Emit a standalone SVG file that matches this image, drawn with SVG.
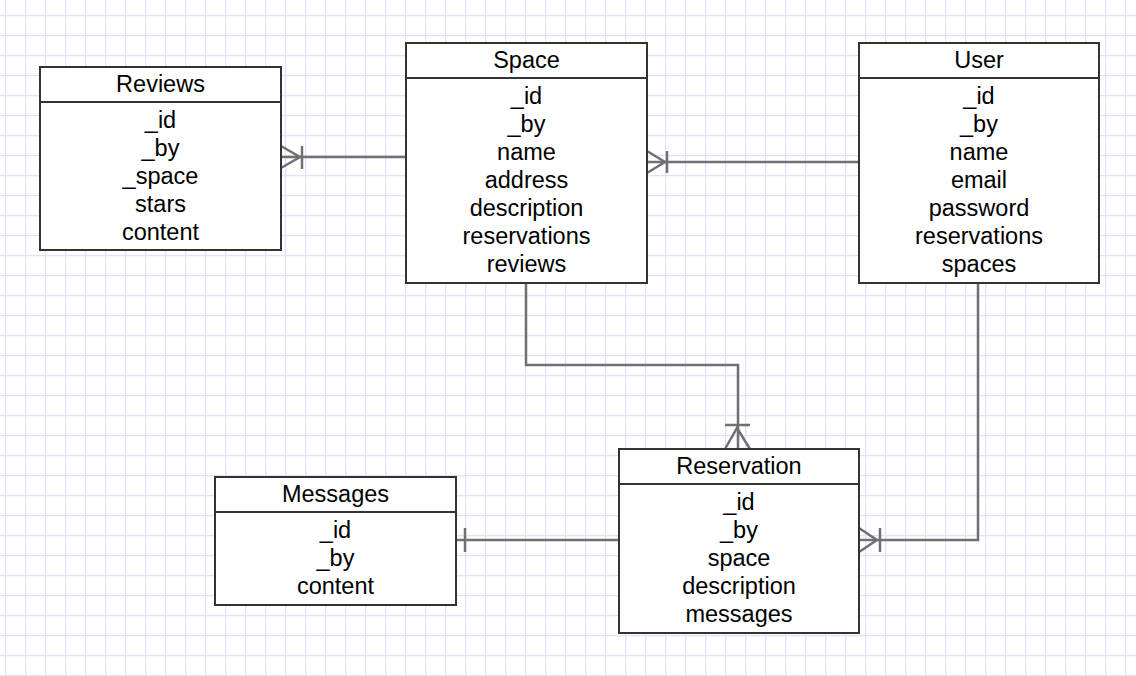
<svg xmlns="http://www.w3.org/2000/svg" width="1136" height="676" viewBox="0 0 1136 676">
<defs>
<pattern id="grid" x="5" y="15" width="20" height="20" patternUnits="userSpaceOnUse">
<path d="M0 0.5H20M0.5 0V20" fill="none" stroke="#e2e0ff" stroke-width="1.5"/>
</pattern>
</defs>
<style>
.box{fill:#fff;stroke:#333;stroke-width:2}
.hl{stroke:#333;stroke-width:2}
text{font-family:"Liberation Sans",Arial,sans-serif;font-size:23.5px;fill:#000;text-anchor:middle}
.c{fill:none;stroke:#707070;stroke-width:2.5}
</style>
<rect width="1136" height="676" fill="#fff"/>
<rect width="1136" height="676" fill="url(#grid)"/>

<g id="connectors">
<path class="c" d="M281 157H406"/>
<path class="c" d="M281 146L300 157L281 168M302 146V169"/>
<path class="c" d="M647 162H859"/>
<path class="c" d="M647 151L665 162L647 173M667 151V173"/>
<path class="c" d="M526 283V365H738V449"/>
<path class="c" d="M725 449L737 428L750 449M725 425H750"/>
<path class="c" d="M456 540H619"/>
<path class="c" d="M465 528V552"/>
<path class="c" d="M978 283V540H859"/>
<path class="c" d="M859 528L877 540L859 552M880 528V552"/>
</g>

<g id="reviews">
<rect class="box" x="40" y="67" width="241" height="183"/>
<line class="hl" x1="40" y1="102" x2="281" y2="102"/>
<text x="160.5" y="92">Reviews</text>
<text x="160.5" y="128">_id</text>
<text x="160.5" y="156">_by</text>
<text x="160.5" y="184">_space</text>
<text x="160.5" y="212">stars</text>
<text x="160.5" y="240">content</text>
</g>

<g id="space">
<rect class="box" x="406" y="43" width="241" height="240"/>
<line class="hl" x1="406" y1="78" x2="647" y2="78"/>
<text x="526.5" y="68">Space</text>
<text x="526.5" y="104">_id</text>
<text x="526.5" y="132">_by</text>
<text x="526.5" y="160">name</text>
<text x="526.5" y="188">address</text>
<text x="526.5" y="216">description</text>
<text x="526.5" y="244">reservations</text>
<text x="526.5" y="272">reviews</text>
</g>

<g id="user">
<rect class="box" x="859" y="43" width="240" height="240"/>
<line class="hl" x1="859" y1="78" x2="1099" y2="78"/>
<text x="979" y="68">User</text>
<text x="979" y="104">_id</text>
<text x="979" y="132">_by</text>
<text x="979" y="160">name</text>
<text x="979" y="188">email</text>
<text x="979" y="216">password</text>
<text x="979" y="244">reservations</text>
<text x="979" y="272">spaces</text>
</g>

<g id="messages">
<rect class="box" x="215" y="477" width="241" height="128"/>
<line class="hl" x1="215" y1="512" x2="456" y2="512"/>
<text x="335.5" y="502">Messages</text>
<text x="335.5" y="538">_id</text>
<text x="335.5" y="566">_by</text>
<text x="335.5" y="594">content</text>
</g>

<g id="reservation">
<rect class="box" x="619" y="449" width="240" height="184"/>
<line class="hl" x1="619" y1="484" x2="859" y2="484"/>
<text x="739" y="474">Reservation</text>
<text x="739" y="510">_id</text>
<text x="739" y="538">_by</text>
<text x="739" y="566">space</text>
<text x="739" y="594">description</text>
<text x="739" y="622">messages</text>
</g>
</svg>
